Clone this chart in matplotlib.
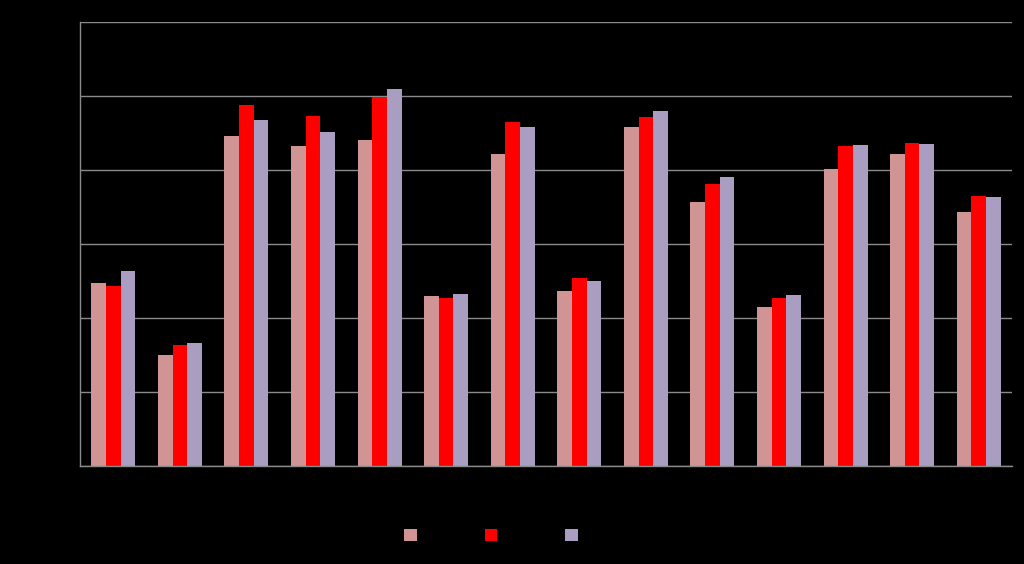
import matplotlib
matplotlib.use("Agg")
import matplotlib.pyplot as plt
import numpy as np

categories = ["Cat 1", "Cat 2", "Cat 3", "Cat 4", "Cat 5", "Cat 6", "Cat 7",
              "Cat 8", "Cat 9", "Cat 10", "Cat 11", "Cat 12", "Cat 13", "Cat 14"]
series_names = ["Series 1", "Series 2", "Series 3"]
series1 = [2.47, 1.50, 4.46, 4.33, 4.41, 2.30, 4.22, 2.36, 4.58, 3.57, 2.15, 4.01, 4.22, 3.43]
series2 = [2.43, 1.64, 4.88, 4.73, 4.99, 2.27, 4.65, 2.54, 4.71, 3.81, 2.27, 4.33, 4.36, 3.65]
series3 = [2.63, 1.66, 4.68, 4.52, 5.09, 2.33, 4.58, 2.50, 4.80, 3.90, 2.31, 4.34, 4.35, 3.63]
y_ticks = [0, 1, 2, 3, 4, 5, 6]

colors = ["#D09494", "#FF0000", "#A99DC2"]
grid_color = "#8A8A8A"

fig = plt.figure(figsize=(10.24, 5.64), dpi=100, facecolor="black")
ax = fig.add_axes([80/1024, 1 - 466/564, (1012-80)/1024, (466-22)/564])
ax.set_facecolor("black")

x = np.arange(len(categories))
w = 0.22
for i, (vals, c, name) in enumerate(zip([series1, series2, series3], colors, series_names)):
    ax.bar(x + (i - 1) * w, vals, width=w, color=c, label=name, zorder=3)

ax.set_xlim(-0.5, len(categories) - 0.5)
ax.set_ylim(0, 6)
ax.set_yticks(y_ticks)
ax.set_yticklabels([str(t) for t in y_ticks], color="black", fontsize=10)
ax.set_xticks(x)
ax.set_xticklabels(categories, color="black", fontsize=9)
ax.tick_params(axis="both", length=0)
ax.yaxis.grid(True, color=grid_color, linewidth=1, zorder=0)
ax.set_axisbelow(True)
for s in ["top", "right"]:
    ax.spines[s].set_visible(False)
for s in ["left", "bottom"]:
    ax.spines[s].set_color(grid_color)
    ax.spines[s].set_linewidth(1)
ax.spines["bottom"].set_zorder(4)

leg = fig.legend(loc="center", bbox_to_anchor=(0.510, 1 - 536/564), ncol=3,
                 frameon=False, handlelength=0.9, handleheight=0.9,
                 handletextpad=0.5, columnspacing=0.4, fontsize=10)
for t in leg.get_texts():
    t.set_color("black")

fig.savefig("out.png", dpi=100, facecolor="black")
